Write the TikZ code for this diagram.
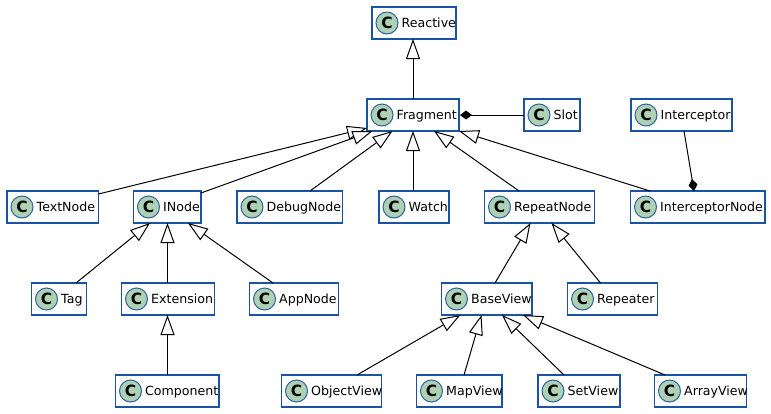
\documentclass[tikz,border=0pt]{standalone}
\usepackage{fontspec}
\setmainfont{DejaVu Sans}
\usetikzlibrary{arrows.meta}
\definecolor{BoxLine}{HTML}{1853A6}
\definecolor{IconFill}{HTML}{ADD1B2}
\definecolor{IconLine}{HTML}{2F62A5}

\begin{document}
\begin{tikzpicture}[x=1pt, y=-1pt,
    classbox/.style={draw=BoxLine, fill=white, line width=1.5pt, outer sep=0pt, inner sep=0pt, minimum height=32pt, anchor=north west},
    classicon/.style={circle, draw=IconLine, fill=IconFill, line width=1pt, inner sep=0pt, minimum size=22pt, font=\fontsize{15.5}{15}\selectfont\bfseries},
    classlabel/.style={anchor=base west, inner sep=0pt, font=\fontsize{12.6}{15}\selectfont},
    extendsline/.style={black, line width=1pt, -{Triangle[length=20pt, width=14pt, fill=white, line width=1pt]}},
    composedline/.style={black, line width=1pt, -{Diamond[length=12pt, width=9pt, fill=black]}}]

  % Background (771 x 413)
  \fill[white] (0,0) rectangle (771,413);

  % Macro for one class box
  % Parameters: 1=name, 2=x, 3=y, 4=width, 5=label
  \def\classentry#1#2#3#4#5{
    \node[classbox, minimum width=#4pt] (#1) at (#2,#3) {};
    \node[classicon] (#1Icon) at (#2+15,#3+16) {C};
    \node[classlabel] (#1Label) at (#2+29.5,#3+20.5) {#5};
  }

  % Macro for an inheritance line: child top edge to parent bottom edge
  % Parameters: 1=child, 2=offset, 3=parent, 4=offset
  \def\extendsentry#1#2#3#4{
    \draw[extendsline] ([xshift=#2pt]#1.north west) -- ([xshift=#4pt]#3.south west);
  }

  % Row 1 and 2
  \classentry{Reactive}{372}{7}{84}{Reactive}
  \classentry{Fragment}{367}{99}{92}{Fragment}
  \classentry{Slot}{524}{99}{56}{Slot}
  \classentry{Interceptor}{631}{99}{101}{Interceptor}

  % Row 3
  \classentry{TextNode}{7}{191}{91.5}{TextNode}
  \classentry{INode}{133.5}{191}{67.5}{INode}
  \classentry{DebugNode}{237}{191}{105.5}{DebugNode}
  \classentry{Watch}{379}{191}{70}{Watch}
  \classentry{RepeatNode}{484.5}{191}{110}{RepeatNode}
  \classentry{InterceptorNode}{630.5}{191}{134.5}{InterceptorNode}

  % Row 4
  \classentry{Tag}{31.5}{283}{55}{Tag}
  \classentry{Extension}{121.5}{283}{93}{Extension}
  \classentry{AppNode}{249.5}{283}{89}{AppNode}
  \classentry{BaseView}{441.5}{283}{90.5}{BaseView}
  \classentry{Repeater}{567.5}{283}{90}{Repeater}

  % Row 5
  \classentry{Component}{115.5}{375}{103.5}{Component}
  \classentry{ObjectView}{281.5}{375}{100}{ObjectView}
  \classentry{MapView}{416.5}{375}{85.5}{MapView}
  \classentry{SetView}{538}{375}{82}{SetView}
  \classentry{ArrayView}{654.5}{375}{92}{ArrayView}

  % Inheritance
  \extendsentry{Fragment}{46}{Reactive}{41}
  \draw[extendsline] ([yshift=-3pt]TextNode.north east) -- ([yshift=3pt]Fragment.south west);
  \draw[extendsline] ([yshift=-2pt]INode.north east) -- ([xshift=5.5pt]Fragment.south west);
  \extendsentry{DebugNode}{73}{Fragment}{25.5}
  \extendsentry{Watch}{34}{Fragment}{46}
  \extendsentry{RepeatNode}{34.5}{Fragment}{67}
  \extendsentry{InterceptorNode}{19.5}{Fragment}{92}
  \extendsentry{Tag}{44.5}{INode}{16.5}
  \extendsentry{Extension}{46}{INode}{34}
  \extendsentry{AppNode}{23.5}{INode}{54.5}
  \extendsentry{Component}{52}{Extension}{46}
  \extendsentry{BaseView}{53.5}{RepeatNode}{46}
  \extendsentry{Repeater}{33}{RepeatNode}{67}
  \extendsentry{ObjectView}{75.5}{BaseView}{19}
  \extendsentry{MapView}{47.5}{BaseView}{40}
  \extendsentry{SetView}{26}{BaseView}{60.5}
  \extendsentry{ArrayView}{10.5}{BaseView}{81.5}

  % Composition
  \draw[composedline] (Slot.west) -- ([xshift=1pt]Fragment.east);
  \draw[composedline] ([xshift=53pt]Interceptor.south west) -- ([xshift=63.5pt]InterceptorNode.north west);

\end{tikzpicture}
\end{document}
